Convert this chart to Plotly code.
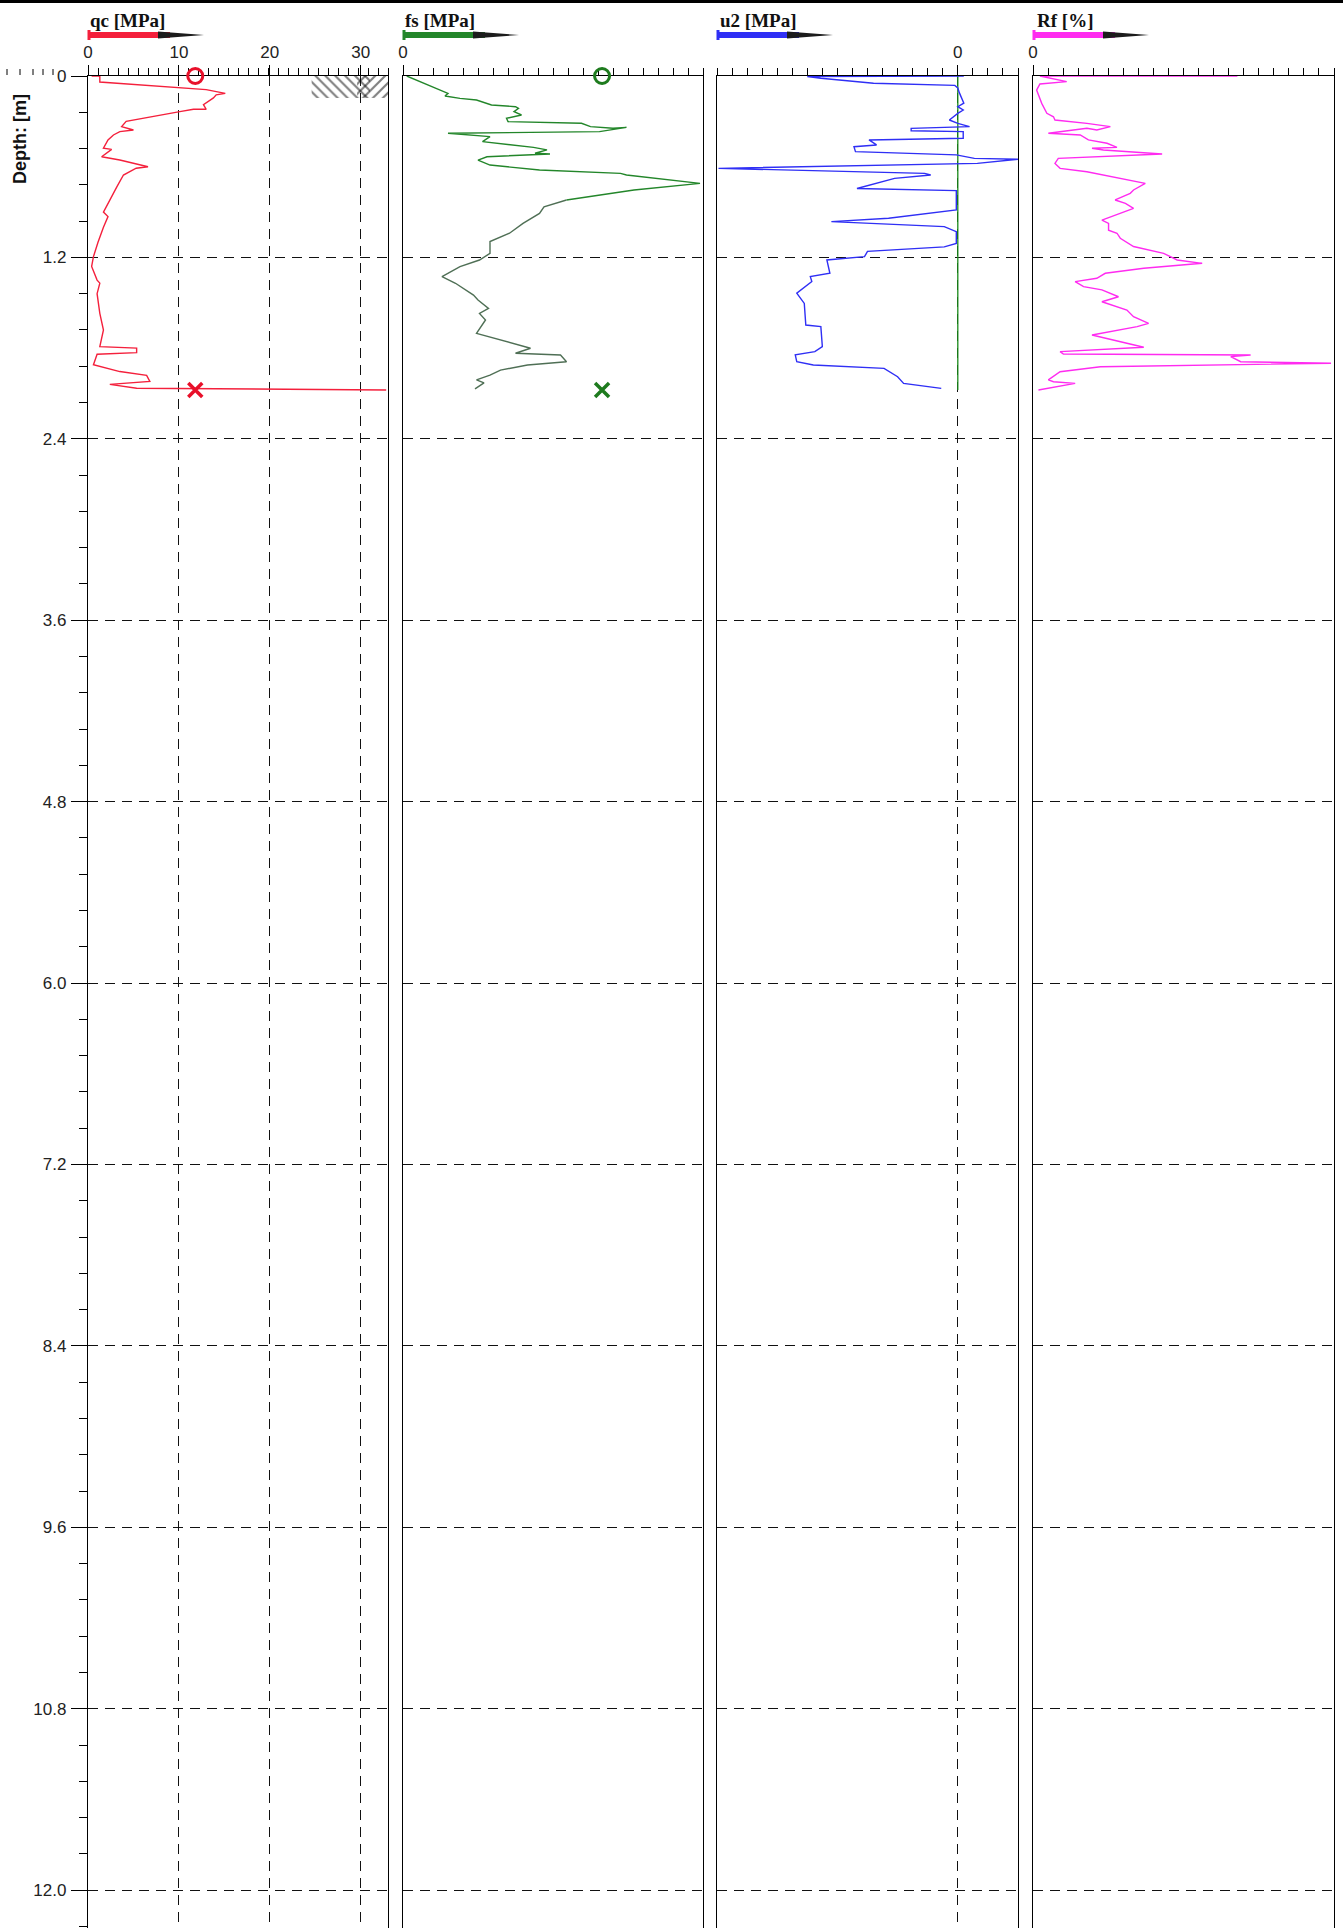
import plotly.graph_objects as go

# ---------------- data ----------------
qc_depth = [0.0, 0.0, 0.04, 0.07, 0.09, 0.115, 0.125, 0.145, 0.18, 0.19, 0.22, 0.22, 0.236, 0.258, 0.28, 0.30,
            0.335, 0.357, 0.368, 0.39, 0.423, 0.478, 0.485, 0.534, 0.556, 0.589, 0.60, 0.61, 0.655, 0.73, 0.82,
            0.90, 0.93, 1.0, 1.10, 1.195, 1.26, 1.35, 1.37, 1.44, 1.57, 1.68, 1.79, 1.80, 1.83, 1.84, 1.91,
            1.955, 1.98, 2.02, 2.04, 2.065, 2.077]
qc_vals = [0.4, 1.3, 1.3, 8.3, 13.0, 15.1, 14.1, 13.8, 13.0, 12.7, 13.0, 11.6, 10.1, 7.9, 6.1, 4.2,
           3.7, 5.0, 3.5, 2.8, 2.2, 1.7, 2.6, 1.5, 3.5, 5.7, 6.6, 5.3, 3.9, 3.2, 2.4,
           1.7, 2.2, 1.7, 1.1, 0.6, 0.4, 1.0, 1.3, 1.0, 1.3, 1.7, 1.3, 5.35, 5.35, 1.0, 0.6,
           3.5, 6.45, 6.8, 2.4, 5.35, 32.8]

fs_depth = [0.0, 0.104, 0.115, 0.132, 0.148, 0.159, 0.192, 0.203, 0.214, 0.236, 0.258, 0.28, 0.302, 0.313,
            0.335, 0.346, 0.34, 0.368, 0.379, 0.401, 0.434, 0.472, 0.489, 0.511, 0.516, 0.534, 0.556, 0.589,
            0.622, 0.644, 0.655, 0.71, 0.754, 0.82, 0.865, 0.909, 0.975, 1.04, 1.095, 1.173, 1.217, 1.261,
            1.327, 1.371, 1.449, 1.482, 1.537, 1.57, 1.614, 1.702, 1.746, 1.801, 1.834, 1.845, 1.89, 1.912,
            1.945, 1.979, 2.01, 2.03, 2.07]
fs_vals = [0.0025, 0.027, 0.030, 0.028, 0.038, 0.049, 0.059, 0.075, 0.077, 0.074, 0.079, 0.069, 0.070, 0.119,
           0.125, 0.140, 0.149, 0.131, 0.030, 0.058, 0.053, 0.087, 0.096, 0.088, 0.098, 0.056, 0.050, 0.058,
           0.091, 0.145, 0.149, 0.198, 0.154, 0.109, 0.094, 0.091, 0.080, 0.071, 0.058, 0.058, 0.051, 0.038,
           0.026, 0.035, 0.047, 0.050, 0.057, 0.051, 0.055, 0.049, 0.065, 0.085, 0.075, 0.105, 0.109, 0.083,
           0.065, 0.058, 0.049, 0.054, 0.048]

u2_depth = [0.0, 0.004, 0.015, 0.037, 0.048, 0.062, 0.079, 0.11, 0.18, 0.203, 0.225, 0.247, 0.291, 0.313,
            0.335, 0.346, 0.362, 0.368, 0.412, 0.423, 0.456, 0.468, 0.50, 0.522, 0.545, 0.551, 0.578, 0.611,
            0.644, 0.655, 0.677, 0.744, 0.758, 0.886, 0.941, 0.963, 0.974, 0.996, 1.03, 1.107, 1.13, 1.16,
            1.195, 1.217, 1.305, 1.327, 1.36, 1.437, 1.504, 1.647, 1.658, 1.79, 1.823, 1.845, 1.89, 1.912,
            1.934, 1.989, 2.033, 2.066]
u2_vals = [0.004, -0.100, -0.091, -0.065, -0.056, -0.002, 0.0, 0.001, 0.004, 0.0, 0.0036, 0.0, -0.0056, 0.0,
           0.0078, -0.031, -0.031, 0.0036, 0.0036, -0.059, -0.054, -0.069, -0.068, -0.001, 0.011, 0.040, 0.013,
           -0.159, -0.022, -0.018, -0.042, -0.067, -0.001, -0.001, -0.046, -0.084, -0.058, -0.009, -0.001,
           -0.001, -0.009, -0.060, -0.062, -0.087, -0.085, -0.098, -0.097, -0.107, -0.102, -0.101, -0.091,
           -0.090, -0.095, -0.108, -0.107, -0.096, -0.049, -0.040, -0.036, -0.011]

rf_depth = [0.0, 0.0, 0.037, 0.053, 0.093, 0.181, 0.247, 0.27, 0.291, 0.313, 0.335, 0.357, 0.346, 0.379, 0.39,
            0.423, 0.445, 0.472, 0.478, 0.489, 0.516, 0.545, 0.578, 0.611, 0.633, 0.677, 0.70, 0.71, 0.754,
            0.776, 0.82, 0.843, 0.876, 0.909, 0.953, 0.975, 1.02, 1.04, 1.073, 1.128, 1.15, 1.173, 1.217,
            1.239, 1.272, 1.305, 1.338, 1.36, 1.393, 1.415, 1.46, 1.493, 1.548, 1.592, 1.636, 1.658, 1.713,
            1.757, 1.794, 1.823, 1.839, 1.845, 1.856, 1.89, 1.9, 1.923, 1.956, 2.01, 2.022, 2.033, 2.077]
rf_vals = [6.79, 0.23, 1.12, 0.23, 0.12, 0.29, 0.46, 0.68, 0.73, 1.79, 2.57, 2.12, 1.79, 0.51, 1.57,
           1.84, 2.46, 2.79, 1.96, 2.34, 4.29, 0.84, 0.73, 0.90, 1.79, 2.9, 3.46, 3.73, 3.34,
           3.23, 2.73, 3.07, 3.34, 2.9, 2.29, 2.51, 2.51, 2.79, 2.9, 3.34, 3.79, 4.34, 4.79,
           5.62, 3.68, 2.4, 2.12, 1.4, 1.68, 2.29, 2.84, 2.29, 3.12, 3.34, 3.84, 3.46, 1.96,
           2.9, 3.68, 0.90, 1.01, 7.23, 6.57, 6.9, 9.9, 2.24, 0.90, 0.51, 0.68, 1.4, 0.18]

# markers (start / end of sounding)
marker_depths = [0.0, 2.077]
qc_marker = 11.8
fs_marker = 0.1327
hydro_depth = [0.0, 2.077]
hydro_u2 = [0.0, 0.0]

# hatched pre-drilled box
hatch_depth = [0.0, 0.145]
hatch_a_qc = [24.6, 31.0]
hatch_b_qc = [29.6, 33.0]

depth_ticks = [0, 1.2, 2.4, 3.6, 4.8, 6.0, 7.2, 8.4, 9.6, 10.8, 12.0]
depth_labels = ["0", "1.2", "2.4", "3.6", "4.8", "6.0", "7.2", "8.4", "9.6", "10.8", "12.0"]
panel_titles = ["qc [MPa]", "fs [MPa]", "u2 [MPa]", "Rf [%]"]

# ---------------- figure ----------------
W, H = 1343, 1928
ML, MR, MT, MB = 88, 9, 76, 0
PW, PH = W - ML - MR, H - MT - MB


def px(x):
    return (x - ML) / PW


def py(y):
    return 1 - (y - MT) / PH


RED = "#f4203c"
GREEN = "#23862a"
BLUE = "#2f2ff5"
MAG = "#ff2bf0"
DARK = "#1c1c1c"

fig = go.Figure()

# hatch boxes
for xs, shp in [(hatch_a_qc, "\\"), (hatch_b_qc, "/")]:
    fig.add_trace(go.Scatter(
        x=[xs[0], xs[1], xs[1], xs[0], xs[0]],
        y=[hatch_depth[0], hatch_depth[0], hatch_depth[1], hatch_depth[1], hatch_depth[0]],
        fill="toself", mode="lines", line=dict(width=0), fillcolor="rgba(0,0,0,0)",
        fillpattern=dict(shape=shp, fgcolor="#000", bgcolor="rgba(0,0,0,0)", size=7, solidity=0.3),
        xaxis="x", yaxis="y", showlegend=False, hoverinfo="skip"))

fig.add_trace(go.Scatter(x=qc_vals, y=qc_depth, mode="lines", line=dict(color=RED, width=1.4),
                         xaxis="x", yaxis="y", showlegend=False))
fig.add_trace(go.Scatter(x=[qc_marker], y=[marker_depths[0]], mode="markers", cliponaxis=False,
                         marker=dict(symbol="circle-open", size=15, color="#e8102a", line=dict(width=3, color="#e8102a")),
                         xaxis="x", yaxis="y", showlegend=False))
fig.add_trace(go.Scatter(x=[qc_marker], y=[marker_depths[1]], mode="markers", cliponaxis=False,
                         marker=dict(symbol="x-thin", size=14, color="#e8102a", line=dict(width=3.5, color="#e8102a")),
                         xaxis="x", yaxis="y", showlegend=False))

split = next(i for i, d in enumerate(fs_depth) if d > 0.8)
fig.add_trace(go.Scatter(x=fs_vals[:split + 1], y=fs_depth[:split + 1], mode="lines",
                         line=dict(color=GREEN, width=1.4), xaxis="x2", yaxis="y2", showlegend=False))
fig.add_trace(go.Scatter(x=fs_vals[split:], y=fs_depth[split:], mode="lines",
                         line=dict(color="#4f6f55", width=1.4), xaxis="x2", yaxis="y2", showlegend=False))
fig.add_trace(go.Scatter(x=[fs_marker], y=[marker_depths[0]], mode="markers", cliponaxis=False,
                         marker=dict(symbol="circle-open", size=15, color="#1e7b1e", line=dict(width=3, color="#1e7b1e")),
                         xaxis="x2", yaxis="y2", showlegend=False))
fig.add_trace(go.Scatter(x=[fs_marker], y=[marker_depths[1]], mode="markers", cliponaxis=False,
                         marker=dict(symbol="x-thin", size=14, color="#1e7b1e", line=dict(width=3.5, color="#1e7b1e")),
                         xaxis="x2", yaxis="y2", showlegend=False))

fig.add_trace(go.Scatter(x=hydro_u2, y=hydro_depth, mode="lines", line=dict(color="#1a8a1a", width=1.3),
                         xaxis="x3", yaxis="y3", showlegend=False))
fig.add_trace(go.Scatter(x=u2_vals, y=u2_depth, mode="lines", line=dict(color=BLUE, width=1.4),
                         xaxis="x3", yaxis="y3", showlegend=False))

fig.add_trace(go.Scatter(x=rf_vals, y=rf_depth, mode="lines", line=dict(color=MAG, width=1.4),
                         xaxis="x4", yaxis="y4", showlegend=False))

# ---------------- axes ----------------
domains = [(px(88), px(388)), (px(403), px(703)), (px(717), px(1018)), (px(1033), px(1334))]
ranges = [[0, 33], [0, 0.2], [-0.16, 0.04], [0, 10]]
major = [[0, 10, 20, 30], [0], [0], [0]]
minor_dt = [1.1, 0.01, 0.01, 0.5]
xgrid = [True, False, True, False]
GRIDDASH = "10px,7px"
tickfont = dict(family="Liberation Sans, Arial, sans-serif", size=17, color="#222")

layout = dict(width=W, height=H, margin=dict(l=ML, r=MR, t=MT, b=MB),
              paper_bgcolor="white", plot_bgcolor="white", showlegend=False)

for i in range(4):
    xn = "xaxis" if i == 0 else f"xaxis{i + 1}"
    yn = "yaxis" if i == 0 else f"yaxis{i + 1}"
    ya = "y" if i == 0 else f"y{i + 1}"
    xa = "x" if i == 0 else f"x{i + 1}"
    layout[xn] = dict(domain=list(domains[i]), range=ranges[i], anchor=ya, side="top",
                      showline=True, mirror=True, linecolor="black", linewidth=1.3,
                      tickvals=major[i], ticktext=[str(v) for v in major[i]],
                      ticks="outside", ticklen=10, tickwidth=1.2, tickcolor="black",
                      ticklabelstandoff=0, tickfont=tickfont, layer="below traces",
                      showgrid=xgrid[i], gridcolor="#111", gridwidth=1.2, griddash=GRIDDASH,
                      zeroline=False, fixedrange=True,
                      minor=dict(dtick=minor_dt[i], tick0=0, ticks="outside", ticklen=7,
                                 tickwidth=1, tickcolor="black", showgrid=False))
    ydict = dict(domain=[0, 1], range=[12.25, 0], anchor=xa,
                 showline=True, mirror=True, linecolor="black", linewidth=1.3,
                 tickvals=depth_ticks, showgrid=True, gridcolor="#111", gridwidth=1.2,
                 griddash=GRIDDASH, zeroline=False, fixedrange=True, layer="below traces")
    if i == 0:
        ydict.update(ticktext=depth_labels, ticks="outside", ticklen=16, tickwidth=1.2, tickcolor="black",
                     ticklabelstandoff=1, tickfont=tickfont,
                     minor=dict(dtick=0.24, tick0=0, ticks="outside", ticklen=8, tickwidth=1,
                                tickcolor="black", showgrid=False))
    else:
        ydict.update(matches="y", showticklabels=False, ticks="")
    layout[yn] = ydict

fig.update_layout(**layout)

# ---------------- decorations ----------------
shapes = []
annotations = []
# top frame line
shapes.append(dict(type="line", xref="paper", yref="paper", x0=px(0), x1=px(W), y0=py(1.5), y1=py(1.5),
                   line=dict(color="black", width=3)))
# small ticks left of first panel on the top axis line
for tx in [7, 20, 33, 43, 53]:
    shapes.append(dict(type="line", xref="paper", yref="paper", x0=px(tx), x1=px(tx), y0=py(69), y1=py(75),
                       line=dict(color="black", width=1)))

colors = [RED, GREEN, BLUE, MAG]
starts = [88, 403, 717, 1033]
title_x = [88, 403, 718, 1035]
for i in range(4):
    x0 = starts[i]
    c = colors[i]
    shapes.append(dict(type="line", xref="paper", yref="paper", x0=px(x0), x1=px(x0 + 82), y0=py(35), y1=py(35),
                       line=dict(color=c, width=6)))
    shapes.append(dict(type="path", xref="paper", yref="paper",
                       path=f"M {px(x0 + 70)},{py(31.5)} L {px(x0 + 116)},{py(35)} L {px(x0 + 70)},{py(38.5)} Z",
                       fillcolor=DARK, line=dict(width=0)))
    shapes.append(dict(type="line", xref="paper", yref="paper", x0=px(x0 + 1), x1=px(x0 + 1), y0=py(30), y1=py(40),
                       line=dict(color=c, width=3)))
    annotations.append(dict(text=f"<b>{panel_titles[i]}</b>", xref="paper", yref="paper",
                            x=px(title_x[i]), y=py(20), xanchor="left", yanchor="middle", showarrow=False,
                            font=dict(family="Liberation Serif, Times New Roman, serif", size=19, color="#111")))

annotations.append(dict(text="<b>Depth: [m]</b>", xref="paper", yref="paper", x=px(20), y=py(139),
                        xanchor="center", yanchor="middle", textangle=-90, showarrow=False,
                        font=dict(family="Liberation Sans, Arial, sans-serif", size=18, color="#111")))

fig.update_layout(shapes=shapes, annotations=annotations)
fig.write_html("out.html", config={"displayModeBar": False},
               post_script="document.body.style.margin='0';document.body.style.overflow='hidden';")
